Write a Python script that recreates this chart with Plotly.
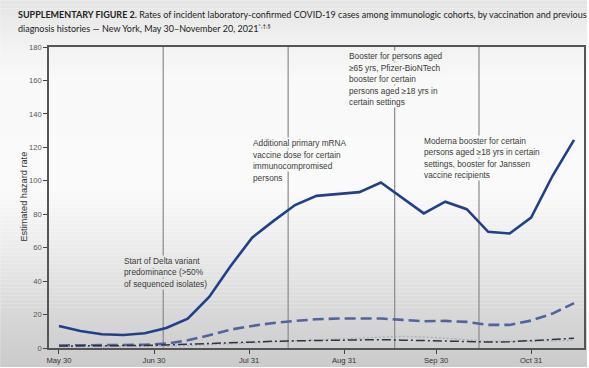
import plotly.graph_objects as go

# Weekly estimates, week starting dates
week_start = [
    "2021-05-30", "2021-06-06", "2021-06-13", "2021-06-20", "2021-06-27",
    "2021-07-04", "2021-07-11", "2021-07-18", "2021-07-25", "2021-08-01",
    "2021-08-08", "2021-08-15", "2021-08-22", "2021-08-29", "2021-09-05",
    "2021-09-12", "2021-09-19", "2021-09-26", "2021-10-03", "2021-10-10",
    "2021-10-17", "2021-10-24", "2021-10-31", "2021-11-07", "2021-11-14",
]

unvax_no_prior = [13.2, 10.2, 8.2, 7.8, 8.8, 12.0, 17.5, 30.5, 49.0, 66.0,
                  76.0, 85.5, 91.0, 92.3, 93.2, 99.0, 90.0, 80.5, 87.5, 83.0,
                  69.5, 68.5, 78.0, 103.0, 124.5]
vax_no_prior = [1.5, 1.5, 1.5, 1.6, 1.9, 2.6, 4.6, 7.6, 11.0, 13.2,
                15.0, 16.2, 17.2, 17.6, 17.8, 17.6, 16.8, 16.0, 16.2, 15.6,
                13.8, 13.8, 16.4, 20.6, 26.8]
unvax_prior = [1.2, 1.2, 1.2, 1.3, 1.5, 1.8, 2.3, 2.8, 3.3, 3.7,
               4.0, 4.3, 4.5, 4.8, 5.0, 5.0, 4.7, 4.4, 4.3, 4.0,
               3.6, 3.7, 4.3, 5.0, 5.8]
vax_prior = [0.6, 0.6, 0.6, 0.7, 0.8, 1.0, 1.4, 2.0, 2.6, 3.2,
             3.8, 4.4, 5.0, 5.6, 6.2, 6.8, 7.0, 6.6, 6.0, 5.0,
             4.0, 3.8, 4.0, 4.3, 4.6]

tick_dates = ["2021-05-30", "2021-06-30", "2021-07-31", "2021-08-31", "2021-09-30", "2021-10-31"]
tick_labels = ["May 30", "Jun 30", "Jul 31", "Aug 31", "Sep 30", "Oct 31"]
y_ticks = [0, 20, 40, 60, 80, 100, 120, 140, 160, 180]

event_dates = ["2021-07-03", "2021-08-12 18:00", "2021-09-16 12:00", "2021-10-14"]

# Event notes: anchor date (left edge of text), value of first text line, lines
event_notes = [
    ("2021-06-20", 52.2, ["Start of Delta variant", "predominance (>50%", "of sequenced isolates)"]),
    ("2021-07-31 21:00", 122.5, ["Additional primary mRNA", "vaccine dose for certain",
                                 "immunocompromised", "persons"]),
    ("2021-09-01 08:00", 174.4, ["Booster for persons aged", "\u226565 yrs, Pfizer-BioNTech",
                                 "booster for certain", "persons aged \u226518 yrs in",
                                 "certain settings"]),
    ("2021-09-25 15:00", 124.0, ["Moderna booster for certain", "persons aged \u226518 yrs in certain",
                                 "settings, booster for Janssen", "vaccine recipients"]),
]

title_lines = [
    "<b>SUPPLEMENTARY FIGURE 2.</b> Rates of incident laboratory-confirmed COVID-19 cases "
    "among immunologic cohorts, by vaccination and previous",
    "diagnosis histories \u2014 New York, May 30\u2013November 20, 2021<sup>*,\u2020,\u00a7</sup>",
]

W, H = 589, 368
L, R, T, B = 49, 3, 47, 19
PH = H - T - B
PW = W - L - R
FONT = "Liberation Sans, Arial, sans-serif"
TITLE_FONT = "Lato, Liberation Sans, sans-serif"
LINE_STEP = 11.5 / PH * 180  # text line spacing in value units


def bg_gray(py):
    # soft vertical shading of the page
    stops = [(0, 228), (45, 242), (80, 249), (190, 250), (240, 238), (300, 220), (368, 202)]
    for (y0, g0), (y1, g1) in zip(stops, stops[1:]):
        if y0 <= py <= y1:
            return g0 + (g1 - g0) * (py - y0) / (y1 - y0)
    return stops[-1][1]


def gray_hex(g):
    g = int(round(g))
    return f"rgb({g},{g},{g})"


def px_to_paper_x(px):
    return (px - L) / PW


def px_to_paper_y(py):
    return (H - B - py) / PH


fig = go.Figure()

series = [
    ("Unvaccinated, no previous diagnosis", unvax_no_prior, "#223f8c", 2.6, "solid"),
    ("Vaccinated, no previous diagnosis", vax_no_prior, "#50659e", 2.6, "11px,5px"),
    ("Vaccinated, previous diagnosis", vax_prior, "#a9b0c2", 1.4, "2px,2px"),
    ("Unvaccinated, previous diagnosis", unvax_prior, "#2e3340", 1.5, "9px,3px,2px,3px"),
]
for name, vals, color, width, dash in series:
    fig.add_trace(go.Scatter(x=week_start, y=vals, name=name, mode="lines",
                             line=dict(color=color, width=width, dash=dash)))

shapes = []
step = 4
for py in range(0, H, step):
    shapes.append(dict(type="rect", xref="paper", yref="paper",
                       x0=px_to_paper_x(0), x1=px_to_paper_x(W),
                       y0=px_to_paper_y(py + step), y1=px_to_paper_y(py),
                       fillcolor=gray_hex(bg_gray(py + step / 2)), line=dict(width=0),
                       layer="below"))
for d in event_dates:
    shapes.append(dict(type="line", xref="x", yref="paper", x0=d, x1=d, y0=0, y1=1,
                       line=dict(color="#8a8a8a", width=1.2), layer="below"))

annotations = []
for x0, y0, lines in event_notes:
    for i, txt in enumerate(lines):
        yv = y0 - i * LINE_STEP
        py = H - B - yv / 180 * PH
        annotations.append(dict(x=x0, y=yv, xref="x", yref="y", text=txt, showarrow=False,
                                xanchor="left", yanchor="middle", align="left",
                                bgcolor=gray_hex(bg_gray(py)), borderpad=0,
                                font=dict(family=FONT, size=8.3, color="#3a3a3a")))

for txt, py in zip(title_lines, [14, 28]):
    annotations.append(dict(
        x=px_to_paper_x(16), y=px_to_paper_y(py), xref="paper", yref="paper",
        xanchor="left", yanchor="middle", showarrow=False, align="left", text=txt,
        font=dict(family=TITLE_FONT, size=9.0, color="#222")))

annotations.append(dict(
    x=px_to_paper_x(23), y=px_to_paper_y(197), xref="paper", yref="paper",
    text="Estimated hazard rate", textangle=-90, showarrow=False,
    xanchor="center", yanchor="middle",
    font=dict(family=FONT, size=9.2, color="#333")))

fig.update_layout(
    width=W, height=H,
    margin=dict(l=L, r=R, t=T, b=B, pad=0),
    paper_bgcolor="white",
    plot_bgcolor="rgba(0,0,0,0)",
    showlegend=False,
    shapes=shapes,
    annotations=annotations,
    font=dict(family=FONT, size=8, color="#333"),
)
fig.update_xaxes(
    range=["2021-05-26 18:00", "2021-11-17 06:00"],
    tickvals=tick_dates, ticktext=tick_labels,
    ticks="outside", ticklen=4, tickcolor="#444", tickwidth=1,
    showgrid=False, zeroline=False,
    showline=True, linecolor="#555", linewidth=1.5, mirror=True,
    tickfont=dict(family=FONT, size=7.6, color="#333"),
)
fig.update_yaxes(
    range=[0, 180], tickvals=y_ticks,
    ticks="outside", ticklen=4, tickcolor="#444", tickwidth=1,
    showgrid=False, zeroline=False,
    showline=True, linecolor="#555", linewidth=1.5, mirror=True,
    tickfont=dict(family=FONT, size=7.6, color="#555"),
)

fig.write_html("out.html")
